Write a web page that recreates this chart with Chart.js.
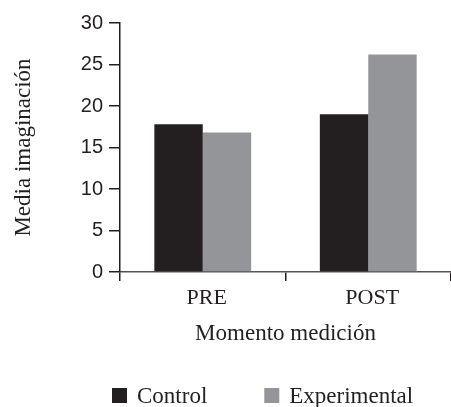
<!DOCTYPE html>
<html>
<head>
<meta charset="utf-8">
<script src="https://cdn.jsdelivr.net/npm/chart.js@4/dist/chart.umd.min.js"></script>
<style>
  html, body { margin: 0; padding: 0; background: #fff; }
  #wrap { width: 451px; height: 407px; position: relative; }
</style>
</head>
<body>
<div id="wrap"><canvas id="chart"></canvas></div>
<script>
const categories = ['PRE', 'POST'];
const controlValues = [17.8, 19.0];
const experimentalValues = [16.8, 26.2];
const yTicks = [0, 5, 10, 15, 20, 25, 30];

const ink = '#231f20';
const grey = '#939598';
const serif = 'Liberation Serif';
const sans = 'Liberation Sans';

// legend drawn by hand: the built-in one can't do a wide gap without tall padding
const legendLeft = 112;
const legendTop = 388;
const legendBox = 15;
const legendGap = 10;
const legendSpacing = 57;

const bottomLegend = {
    id: 'bottomLegend',
    afterDraw(chart) {
        const c = chart.ctx;
        c.save();
        c.font = '23px "' + serif + '"';
        c.textBaseline = 'alphabetic';
        let x = legendLeft;
        chart.data.datasets.forEach(function(ds) {
            c.fillStyle = ds.backgroundColor;
            c.fillRect(x, legendTop, legendBox, legendBox);
            c.fillStyle = ink;
            c.fillText(ds.label, x + legendBox + legendGap, legendTop + legendBox);
            x += legendBox + legendGap + c.measureText(ds.label).width + legendSpacing;
        });
        c.restore();
    }
};

const ctx = document.getElementById('chart').getContext('2d');
new Chart(ctx, {
    type: 'bar',
    data: {
        labels: categories,
        datasets: [{
            label: 'Control',
            data: controlValues,
            backgroundColor: ink,
            borderWidth: 0
        }, {
            label: 'Experimental',
            data: experimentalValues,
            backgroundColor: grey,
            borderWidth: 0
        }]
    },
    options: {
        responsive: true,
        maintainAspectRatio: false,
        devicePixelRatio: 1,
        animation: false,
        layout: {
            padding: { left: 8, top: 23, right: 0, bottom: 45 }
        },
        datasets: {
            bar: {
                categoryPercentage: 0.585,
                barPercentage: 1
            }
        },
        plugins: {
            legend: { display: false },
            tooltip: { enabled: false }
        },
        scales: {
            x: {
                grid: {
                    drawOnChartArea: false,
                    tickLength: 9,
                    color: ink,
                    lineWidth: 1.5
                },
                border: { color: '#555', width: 1.5 },
                ticks: {
                    color: ink,
                    padding: 4,
                    labelOffset: 4,
                    font: { family: serif, size: 22 }
                },
                title: {
                    display: true,
                    text: 'Momento medición',
                    color: ink,
                    padding: { top: 6, bottom: 14 },
                    font: { family: serif, size: 23 }
                },
                afterFit(scale) {
                    scale.height = 90;
                }
            },
            y: {
                min: 0,
                max: 30,
                afterBuildTicks(scale) {
                    scale.ticks = yTicks.map(v => ({ value: v }));
                },
                grid: {
                    drawOnChartArea: false,
                    tickLength: 11,
                    color: ink,
                    lineWidth: 1.5
                },
                border: { color: ink, width: 1.5 },
                ticks: {
                    color: ink,
                    padding: 6,
                    font: { family: sans, size: 20 }
                },
                title: {
                    display: true,
                    text: 'Media imaginación',
                    color: ink,
                    padding: { top: 2, bottom: 4 },
                    font: { family: serif, size: 23 }
                },
                afterFit(scale) {
                    scale.width = 112;
                }
            }
        }
    },
    plugins: [bottomLegend]
});
</script>
</body>
</html>
